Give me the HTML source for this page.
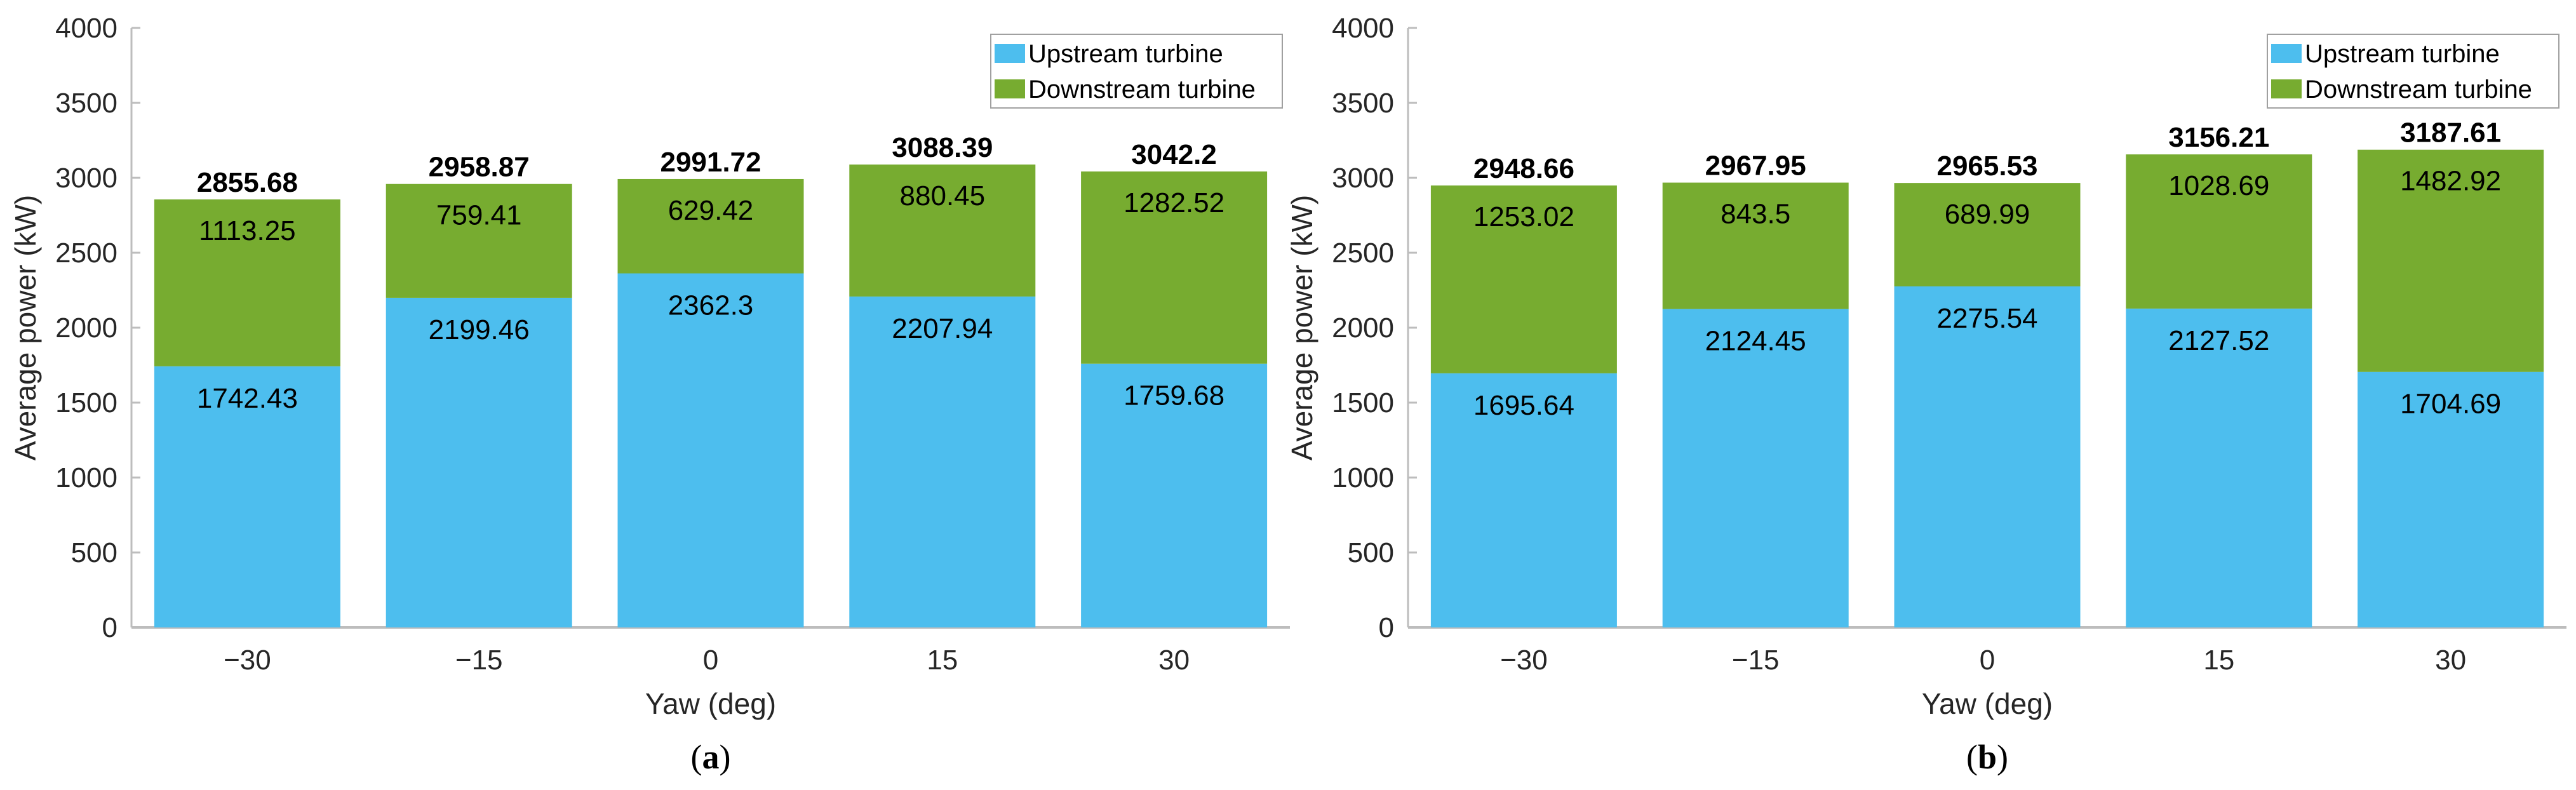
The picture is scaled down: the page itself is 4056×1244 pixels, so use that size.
<!DOCTYPE html>
<html><head><meta charset="utf-8"><style>
html,body{margin:0;padding:0;background:#fff;}
svg{display:block;font-family:"Liberation Sans",Arial,sans-serif;}
</style></head><body>
<svg id="fig" width="4056" height="1244" viewBox="0 0 4056 1244" xmlns="http://www.w3.org/2000/svg"></svg>
<script>
const categories = ["\u221230","\u221215","0","15","30"];
const upstreamA = [1742.43,2199.46,2362.3,2207.94,1759.68];
const downstreamA = [1113.25,759.41,629.42,880.45,1282.52];
const totalsA = ["2855.68","2958.87","2991.72","3088.39","3042.2"];
const upstreamB = [1695.64,2124.45,2275.54,2127.52,1704.69];
const downstreamB = [1253.02,843.5,689.99,1028.69,1482.92];
const totalsB = ["2948.66","2967.95","2965.53","3156.21","3187.61"];
const yTicks = [0,500,1000,1500,2000,2500,3000,3500,4000];

const NS="http://www.w3.org/2000/svg";
const svg=document.getElementById('fig');
function mk(tag,attrs,parent){const e=document.createElementNS(NS,tag);for(const k in attrs)e.setAttribute(k,attrs[k]);(parent||svg).appendChild(e);return e;}

function panel(off,up,down,totals,tag,letter){
  const g=mk('g',{transform:`translate(${off},0)`});
  
  
  const x0=207,x1=2031,y0=988,yTop=44;
  const y=v=>y0-(v/4000)*(y0-yTop);
  const band=(x1-x0)/categories.length;
  const cx=i=>x0+band*(i+0.5);
  const bw=293;
  // axes
  const ax=mk('line',{x1:x0,y1:yTop,x2:x0,y2:y0,stroke:'#bdbdbd','stroke-width':3},g);
  
  
  const bx=mk('line',{x1:x0,y1:y0,x2:x1,y2:y0,stroke:'#bdbdbd','stroke-width':4},g);
  
  
  yTicks.forEach(t=>{
    const tk=mk('line',{x1:x0,y1:y(t),x2:x0+14,y2:y(t),stroke:'#bdbdbd','stroke-width':3},g);
    
    
    const tl=mk('text',{x:185,y:y(t)+15,'text-anchor':'end','font-size':44,fill:'#262626'},g);
    tl.textContent=t;
    
    
  });
  categories.forEach((c,i)=>{
    const left=cx(i)-bw/2;
    const b1=mk('rect',{x:left,y:y(up[i]),width:bw,height:y0-y(up[i]),fill:'#4DBEEE'},g);
    
    
    const b2=mk('rect',{x:left,y:y(up[i]+down[i]),width:bw,height:y(up[i])-y(up[i]+down[i]),fill:'#77AC30'},g);
    
    
    const l1=mk('text',{x:cx(i),y:y(up[i])+65,'text-anchor':'middle','font-size':44,fill:'#000'},g);
    l1.textContent=up[i];
    
    
    const l2=mk('text',{x:cx(i),y:y(up[i]+down[i])+64,'text-anchor':'middle','font-size':44,fill:'#000'},g);
    l2.textContent=down[i];
    
    
    const l3=mk('text',{x:cx(i),y:y(up[i]+down[i])-12,'text-anchor':'middle','font-size':44,'font-weight':'bold',fill:'#000'},g);
    l3.textContent=totals[i];
    
    
    const xl=mk('text',{x:cx(i),y:1054,'text-anchor':'middle','font-size':44,fill:'#262626'},g);
    xl.textContent=c;
    
    
  });
  const xt=mk('text',{x:(x0+x1)/2,y:1124,'text-anchor':'middle','font-size':46,fill:'#262626'},g);
  xt.textContent='Yaw (deg)';
  
  
  const yt=mk('text',{x:0,y:0,'text-anchor':'middle','font-size':46,fill:'#262626',transform:`translate(56,${(y0+yTop)/2}) rotate(-90)`},g);
  yt.textContent='Average power (kW)';
  
  
  // legend
  const lg=mk('g',{},g);
  
  
  mk('rect',{x:1560,y:54,width:459,height:116,fill:'#fff',stroke:'#a0a0a0','stroke-width':2},lg);
  const s1=mk('rect',{x:1566,y:69,width:48,height:30,fill:'#4DBEEE'},lg);
  
  
  const s2=mk('rect',{x:1566,y:125,width:48,height:30,fill:'#77AC30'},lg);
  
  
  const t1=mk('text',{x:1619,y:98,'font-size':40,fill:'#000'},lg);
  t1.textContent='Upstream turbine';
  
  
  const t2=mk('text',{x:1619,y:154,'font-size':40,fill:'#000'},lg);
  t2.textContent='Downstream turbine';
  
  
  const pl=mk('text',{x:(x0+x1)/2,y:1210,'text-anchor':'middle','font-size':54,'font-family':'"Liberation Serif",serif',fill:'#000'},g);
  pl.innerHTML='(<tspan font-weight="bold">'+letter+'</tspan>)';
  
  
}
panel(0,upstreamA,downstreamA,totalsA,'a','a');
panel(2010,upstreamB,downstreamB,totalsB,'b','b');
</script>
</body></html>
